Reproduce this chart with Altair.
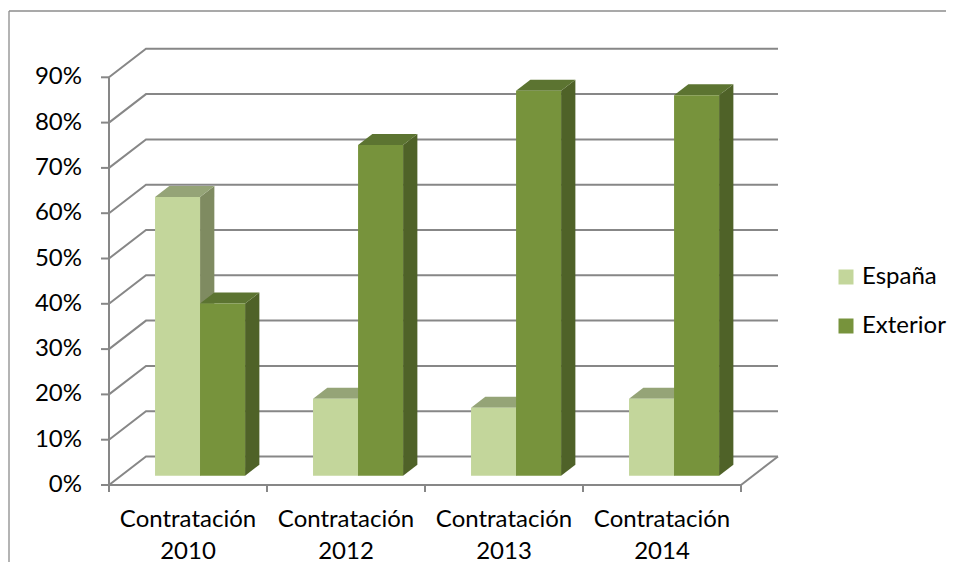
import altair as alt
import pandas as pd

# ---------------- data ----------------
categories = ["Contratación 2010", "Contratación 2012", "Contratación 2013", "Contratación 2014"]
series = ["España", "Exterior"]
espana = [61.5, 17, 15, 17]
exterior = [38, 73, 85, 84]
tick_values = [0, 10, 20, 30, 40, 50, 60, 70, 80, 90]
tick_labels = ["0%", "10%", "20%", "30%", "40%", "50%", "60%", "70%", "80%", "90%"]

# ---------------- styling / layout ----------------
FONT = "Lato"
FS = 24
GRID = "#878787"
front_colors = ["#C3D69B", "#77933C"]
side_colors = ["#7F8B61", "#4F6228"]
top_colors = ["#95A477", "#5C7431"]

DX = 37 / 158
DY = 28.5 / 4.53
D0 = 0.326
D1 = 0.386
BW = 0.285
NCAT = len(categories)

W, H = 940, 556
XS = alt.Scale(domain=[(8 - 109) / 158, (948 - 109) / 158], nice=False, zero=False)
YS = alt.Scale(domain=[(485 - 564) / 4.53, (485 - 8) / 4.53], nice=False, zero=False)

values = {"España": espana, "Exterior": exterior}

front_rows, side_rows, top_rows = [], [], []
for i, cat in enumerate(categories):
    for j, s in enumerate(series):
        v = values[s][i]
        xl = i + 0.5 - BW + j * BW + D0 * DX
        xr = xl + BW
        yb = D0 * DY
        yt = yb + v
        bid = f"{i}-{j}"
        front_rows.append({"id": bid, "serie": s, "xl": xl, "xr": xr, "yb": yb, "yt": yt})
        side_rows.append({"id": bid, "serie": s, "x": xr, "lo": yb, "hi": yt})
        side_rows.append({"id": bid, "serie": s, "x": xr + D1 * DX, "lo": yb + D1 * DY, "hi": yt + D1 * DY})
        top_rows.append({"id": bid, "serie": s, "y": yt, "a": xl, "b": xr})
        top_rows.append({"id": bid, "serie": s, "y": yt + D1 * DY, "a": xl + D1 * DX, "b": xr + D1 * DX})

front_df = pd.DataFrame(front_rows)
side_df = pd.DataFrame(side_rows)
top_df = pd.DataFrame(top_rows)

grid_rows = []
for t in tick_values:
    grid_rows += [
        {"lvl": t, "o": 0, "x": 0.0, "y": t},
        {"lvl": t, "o": 1, "x": DX, "y": t + DY},
        {"lvl": t, "o": 2, "x": NCAT + DX, "y": t + DY},
    ]
grid_df = pd.DataFrame(grid_rows)

seg_rows = [
    {"x": 0.0, "x2": float(NCAT), "y": 0.0, "y2": 0.0},
    {"x": float(NCAT), "x2": NCAT + DX, "y": 0.0, "y2": DY},
    {"x": 0.0, "x2": 0.0, "y": 0.0, "y2": float(tick_values[-1])},
]
for t in tick_values:
    seg_rows.append({"x": -8 / 158, "x2": 0.0, "y": t, "y2": t})
for i in range(NCAT + 1):
    seg_rows.append({"x": float(i), "x2": float(i), "y": 0.0, "y2": -7 / 4.53})
seg_df = pd.DataFrame(seg_rows)

# chart frame: top edge and left edge
FX = (9 - 109) / 158
FY = (485 - 11) / 4.53
top_edge_df = pd.DataFrame([{"x": FX, "x2": (946 - 109) / 158, "y": FY}])
left_edge_df = pd.DataFrame([{"x": FX, "y": FY, "y2": (485 - 562) / 4.53}])

ylab_df = pd.DataFrame({"v": tick_values, "label": tick_labels, "x": [-27 / 158] * len(tick_values)})
xlab_df = pd.DataFrame({"cat": categories, "x": [i + 0.5 for i in range(NCAT)],
                        "y": [(485 - 527) / 4.53] * NCAT})

X = lambda f: alt.X(f, type="quantitative", scale=XS, axis=None)
Y = lambda f: alt.Y(f, type="quantitative", scale=YS, axis=None)

top_edge = alt.Chart(top_edge_df).mark_rule(color="#8C8C8C", strokeWidth=1.3).encode(
    x=X("x"), x2="x2", y=Y("y"))
left_edge = alt.Chart(left_edge_df).mark_rule(color="#8C8C8C", strokeWidth=1.3).encode(
    x=X("x"), y=Y("y"), y2="y2")

grid = alt.Chart(grid_df).mark_line(color=GRID, strokeWidth=2).encode(
    x=X("x"), y=Y("y"), detail="lvl:N", order="o:Q")

segs = alt.Chart(seg_df).mark_rule(color=GRID, strokeWidth=2).encode(
    x=X("x"), x2="x2", y=Y("y"), y2="y2")

side = alt.Chart(side_df).mark_area(opacity=1).encode(
    x=X("x"), y=Y("lo"), y2="hi", detail="id:N",
    color=alt.Color("serie:N", scale=alt.Scale(domain=series, range=side_colors), legend=None))

top = alt.Chart(top_df).mark_area(orient="horizontal", opacity=1).encode(
    y=Y("y"), x=X("a"), x2="b", detail="id:N",
    color=alt.Color("serie:N", scale=alt.Scale(domain=series, range=top_colors), legend=None))

front = alt.Chart(front_df).mark_rect().encode(
    x=X("xl"), x2="xr", y=Y("yb"), y2="yt",
    color=alt.Color("serie:N", scale=alt.Scale(domain=series, range=front_colors),
                    legend=alt.Legend(title=None, orient="none", legendX=826, legendY=257,
                                      symbolType="square", symbolSize=225, symbolStrokeWidth=0,
                                      labelFont=FONT, labelFontSize=FS, labelColor="#000000",
                                      labelOffset=4, rowPadding=25, padding=0)))

ylabels = alt.Chart(ylab_df).mark_text(align="right", baseline="middle", font=FONT,
                                       fontSize=FS, color="#000000").encode(
    x=X("x"), y=Y("v"), text="label:N")

xlabels = alt.Chart(xlab_df).mark_text(align="center", baseline="alphabetic", font=FONT,
                                       fontSize=FS, color="#000000", lineBreak=" ",
                                       lineHeight=32).encode(
    x=X("x"), y=Y("y"), text="cat:N")

chart = alt.layer(top_edge, left_edge, grid, segs, side, top, front, ylabels, xlabels).resolve_scale(
    color="independent"
).properties(
    width=W, height=H, padding=0, autosize=alt.AutoSizeParams(type="none")
).configure_view(stroke=None, strokeWidth=0)

chart.save("out.html", embed_options={"renderer": "svg", "actions": False})
